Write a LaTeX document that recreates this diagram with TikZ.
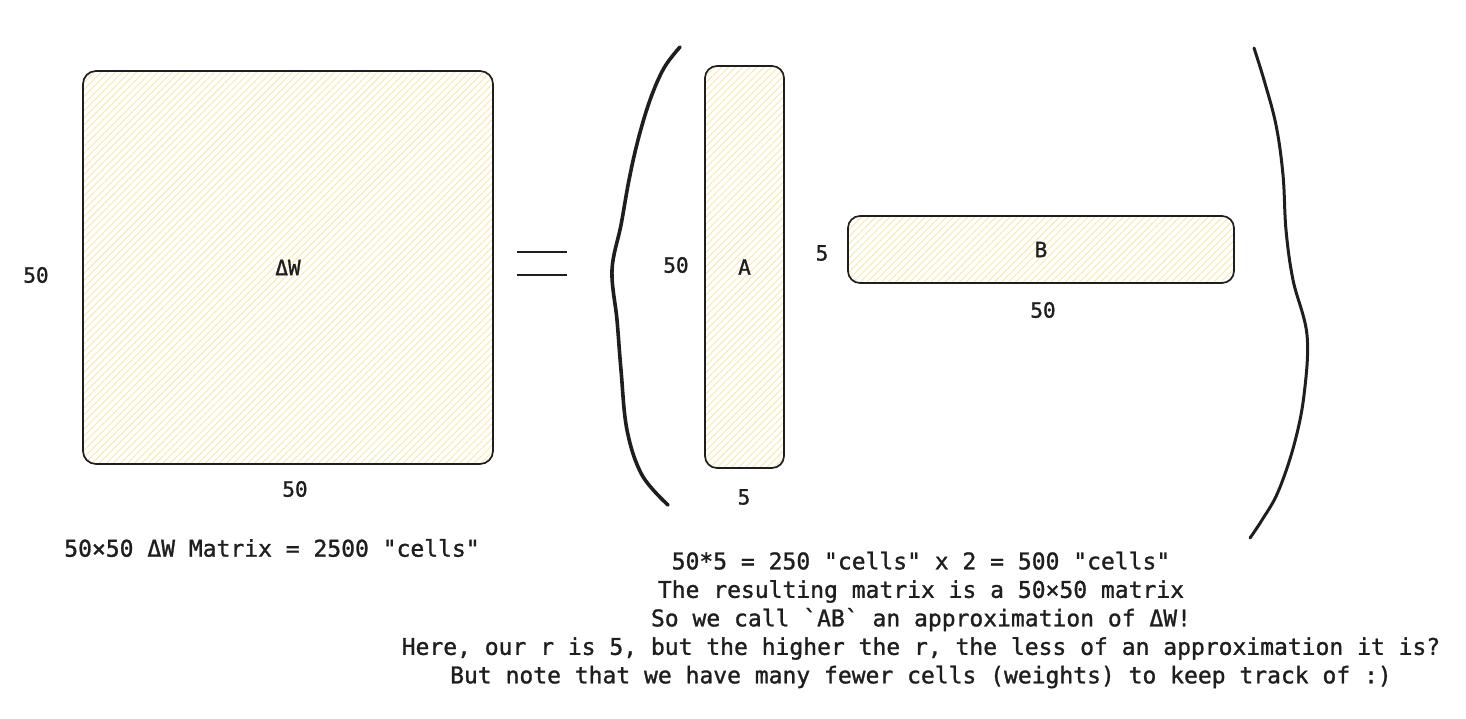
\documentclass[tikz,border=0pt]{standalone}
\usepackage{fontspec}
\setmonofont{DejaVu Sans Mono}[FakeBold=1.2,AutoFakeBold=false]
\newfontfamily\labfont{DejaVu Sans Mono}[FakeBold=1.2]
\usetikzlibrary{patterns.meta}
\definecolor{ink}{HTML}{1E1E1E}
\definecolor{hatch}{HTML}{F9E7A4}
\tikzset{
  mat/.style={draw=ink, line width=1.7pt, rounded corners=13pt, inner sep=0pt,
    pattern={Lines[angle=45,distance=5pt,line width=0.9pt]}, pattern color=hatch,
    font=\labfont\fontsize{21}{24}\selectfont, text=ink},
  lbl/.style={font=\labfont\fontsize{21}{24}\selectfont, text=ink, inner sep=0pt},
  txt/.style={font=\labfont\fontsize{23}{28.5}\selectfont, text=ink, align=center, inner sep=0pt},
  paren/.style={draw=ink, line width=3.6pt, line cap=round, line join=round},
  eqline/.style={draw=ink, line width=1.6pt}
}
\begin{document}
\begin{tikzpicture}[x=1pt,y=-1pt]
\useasboundingbox (0,0) rectangle (1466,718);
% matrices
\node[mat, minimum width=410pt, minimum height=393pt] (dW) at (288,267.5) {ΔW};
\node[mat, minimum width=79pt, minimum height=402pt, rounded corners=12pt] (A) at (744.5,267) {A};
\node[mat, minimum width=386pt, minimum height=67pt, rounded corners=12pt] (B) at (1041,249.5) {B};
% dimension labels
\node[lbl] (dWl) at (36,275) {50};
\node[lbl] (dWb) at (295,489) {50};
\node[lbl] (Al) at (676,265) {50};
\node[lbl] (Ab) at (744,497) {5};
\node[lbl] (Bl) at (822,253) {5};
\node[lbl] (Bb) at (1043,310) {50};
% equals sign
\draw[eqline] (517,252) -- (567,252);
\draw[eqline] (517,275) -- (567,275);
% left paren
\draw[paren] plot[smooth, tension=0.6] coordinates {(680,47) (664,68) (650,100) (638,140) (629,180) (621,225) (612,270) (617,320) (621,370) (627,430) (642,475) (668,505)};
% right paren
\draw[paren, line width=3pt] plot[smooth, tension=0.6] coordinates {(1254,48) (1264,80) (1276,125) (1283,175) (1286,230) (1293,280) (1307,335) (1304,395) (1294,445) (1278,492) (1262,520) (1250,538)};
% captions
\node[txt] (cap1) at (272,548) {50×50 ΔW Matrix = 2500 "cells"};
\node[txt] (cap2) at (921,620) {50*5 = 250 "cells" x 2 = 500 "cells"\\
The resulting matrix is a 50×50 matrix\\
So we call \symbol{96}AB\symbol{96} an approximation of ΔW!\\
Here, our r is 5, but the higher the r, the less of an approximation it is?\\
But note that we have many fewer cells (weights) to keep track of :)};
\end{tikzpicture}
\end{document}
